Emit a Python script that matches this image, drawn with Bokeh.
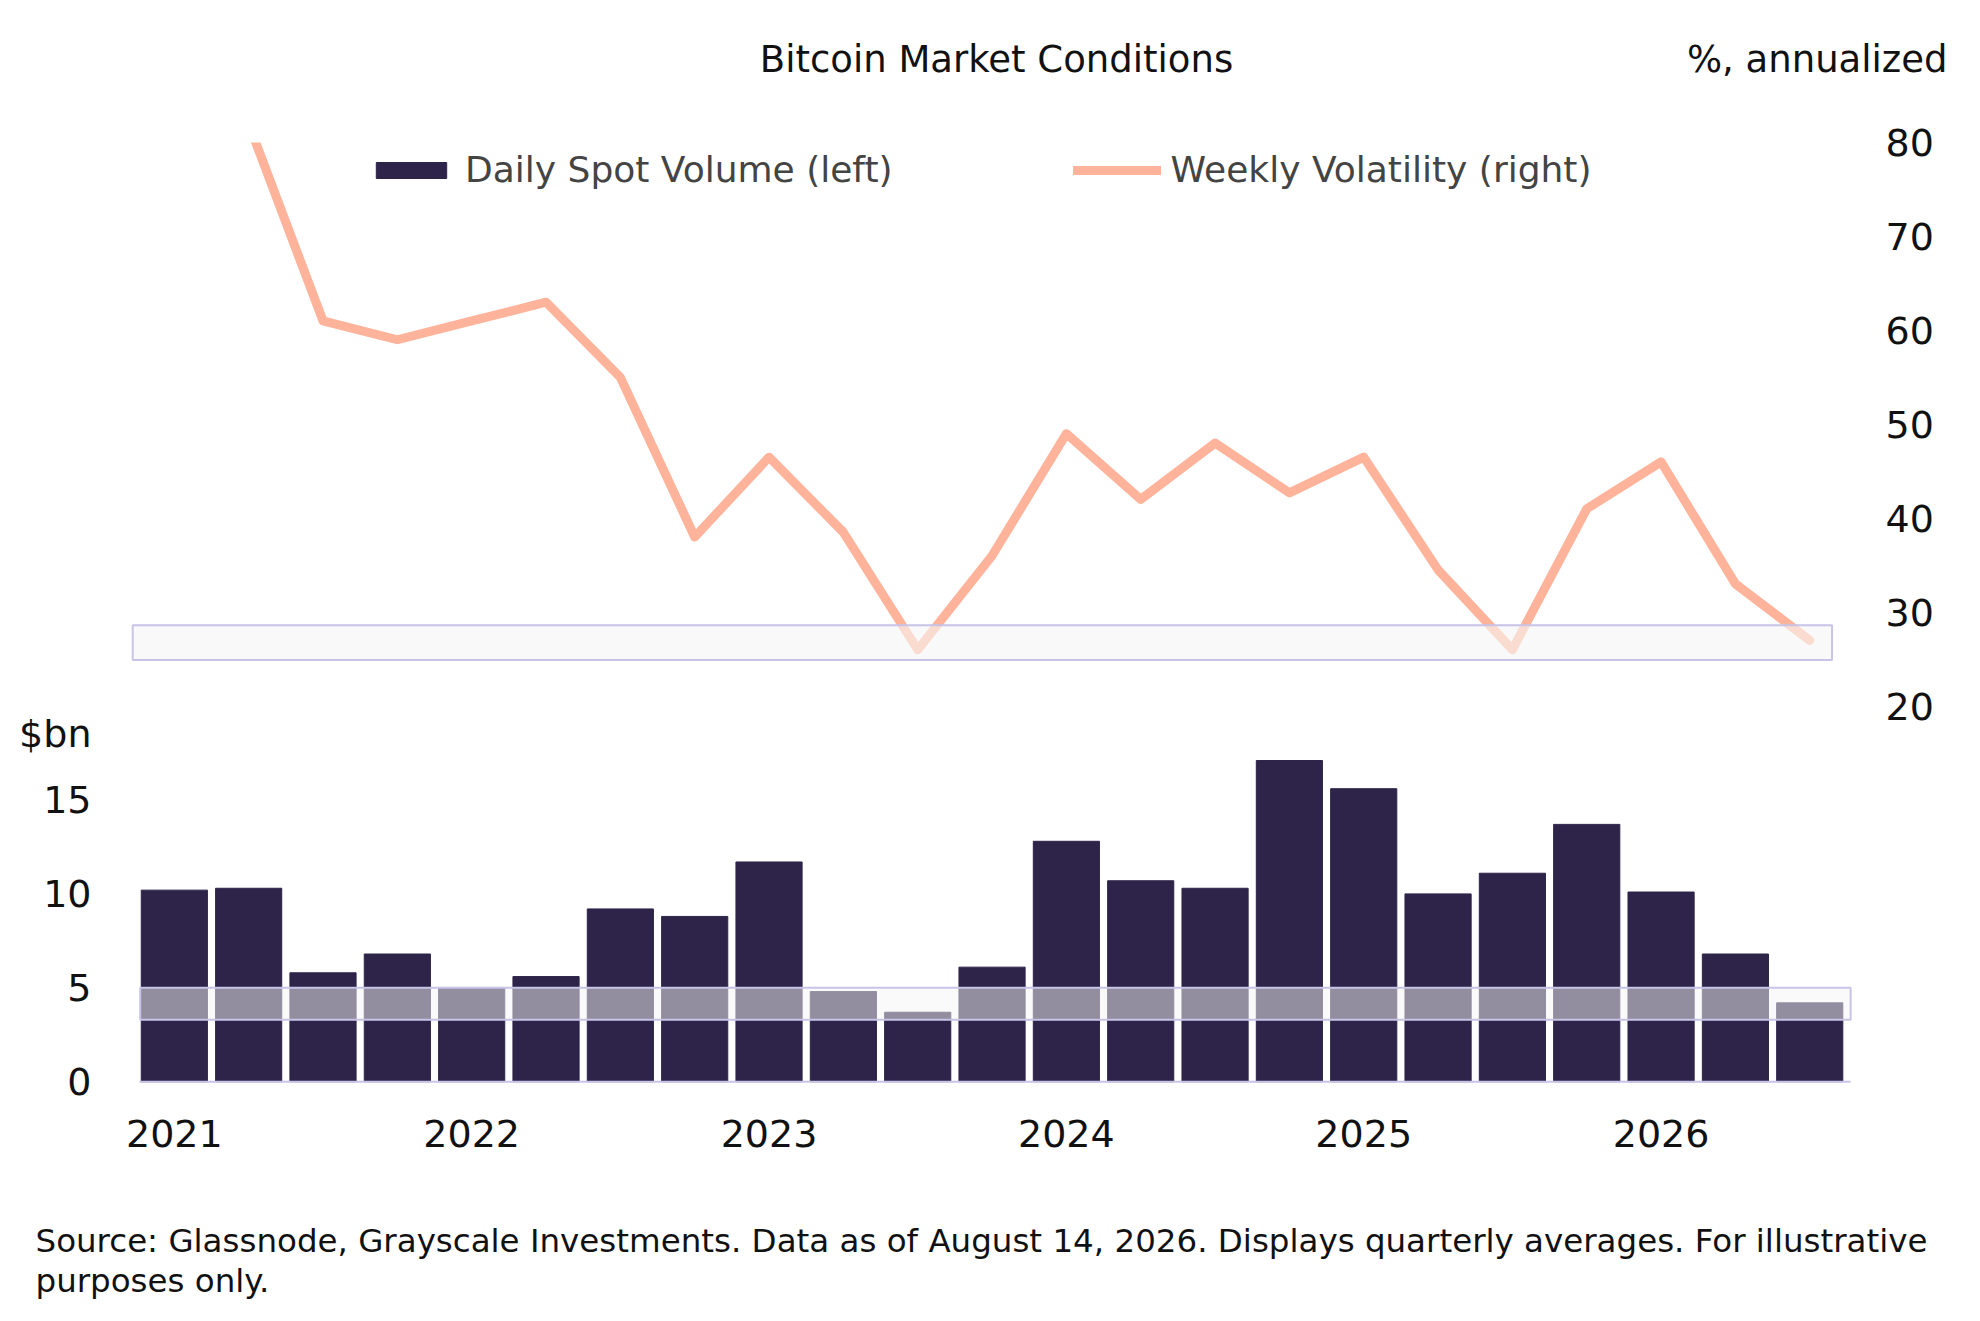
from bokeh.plotting import figure
from bokeh.models import (ColumnDataSource, Range1d, LinearAxis, FixedTicker,
                          Legend, LegendItem, Title)
from bokeh.embed import file_html
from bokeh.resources import INLINE

quarters = ["2021Q1", "2021Q2", "2021Q3", "2021Q4", "2022Q1", "2022Q2", "2022Q3", "2022Q4",
            "2023Q1", "2023Q2", "2023Q3", "2023Q4", "2024Q1", "2024Q2", "2024Q3", "2024Q4",
            "2025Q1", "2025Q2", "2025Q3", "2025Q4", "2026Q1", "2026Q2", "2026Q3"]
volume = [10.2, 10.3, 5.8, 6.8, 5.0, 5.6, 9.2, 8.8, 11.7, 4.8, 3.7, 6.1,
          12.8, 10.7, 10.3, 17.1, 15.6, 10.0, 11.1, 13.7, 10.1, 6.8, 4.2]
volatility = [105, 82, 61, 59, 61, 63, 55, 38, 46.5, 38.5, 26, 36,
              49, 42, 48, 42.7, 46.5, 34.5, 26, 41, 46, 33, 27]
year_labels = {0: "2021", 4: "2022", 8: "2023", 12: "2024", 16: "2025", 20: "2026"}

FONT = "DejaVu Sans"
BAR = "#2e2449"
LINE = "#ffb39a"

idx = list(range(len(quarters)))
src = ColumnDataSource(dict(x=idx, vol=volume, volat=volatility))

p = figure(width=1964, height=1305, output_backend="svg", toolbar_location=None,
           x_range=Range1d(-0.63, 22.75), y_range=Range1d(-20.4, 80),
           min_border_left=127, min_border_right=99, min_border_top=142,
           min_border_bottom=220)
p.outline_line_color = None
p.grid.visible = False
p.xaxis.visible = False
p.yaxis.visible = False
p.extra_y_ranges = {"bars": Range1d(-0.2, 50.0)}

bars = p.vbar(x="x", top="vol", bottom=0, width=0.89, source=src, y_range_name="bars",
              fill_color=BAR, line_color=BAR)
p.segment(x0=-0.47, x1=22.55, y0=0, y1=0, y_range_name="bars", line_color="#c8c4e8", line_width=2)
line = p.line(x="x", y="volat", source=src, line_color=LINE, line_width=9,
              line_join="round", line_cap="round")

# highlight boxes
p.quad(left=-0.56, right=22.3, bottom=24.9, top=28.6, fill_color="#f5f5f5", fill_alpha=0.6,
       line_color="#c8c4e8", line_width=2)
p.quad(left=-0.46, right=22.55, bottom=3.3, top=5.0, y_range_name="bars", fill_color="#f5f5f5",
       fill_alpha=0.5, line_color="#c8c4e8", line_width=2)

def style(ax, standoff, size="38px"):
    ax.axis_line_color = None
    ax.major_tick_line_color = None
    ax.minor_tick_line_color = None
    ax.major_label_text_font = FONT
    ax.major_label_text_font_size = size
    ax.major_label_text_color = "#111111"
    ax.major_label_standoff = standoff

ra = LinearAxis(ticker=FixedTicker(ticks=[20, 30, 40, 50, 60, 70, 80]))
style(ra, 14)
p.add_layout(ra, "right")

la = LinearAxis(y_range_name="bars", ticker=FixedTicker(ticks=[0, 5, 10, 15, 18.5]),
                major_label_overrides={18.5: "$bn"})
style(la, 30)
p.add_layout(la, "left")

ba = LinearAxis(ticker=FixedTicker(ticks=list(year_labels.keys())),
                major_label_overrides=dict(year_labels))
style(ba, 28)
p.add_layout(ba, "below")

# chart title and right-axis unit on a top axis
ta = LinearAxis(ticker=FixedTicker(ticks=[11.06, 22.1]),
                major_label_overrides={11.06: "Bitcoin Market Conditions", 22.1: "%, annualized"})
style(ta, 56, "37px")
p.add_layout(ta, "above")

for t, size in [(" ", "58px"),
                ("Source: Glassnode, Grayscale Investments. Data as of August 14, 2026. Displays quarterly averages. For illustrative", "32.5px"),
                ("purposes only.", "32.5px")]:
    p.add_layout(Title(text=t, align="left", text_font=FONT, text_font_size=size,
                       text_font_style="normal", text_color="#111111", offset=-92,
                       standoff=0), "below")

legend = Legend(items=[LegendItem(label="Daily Spot Volume (left)", renderers=[bars]),
                       LegendItem(label="Weekly Volatility (right)", renderers=[line])],
                orientation="horizontal", location=(240, 895), spacing=180,
                glyph_width=88, glyph_height=20, padding=0, margin=0,
                label_text_font=FONT, label_text_font_size="36px", label_standoff=10,
                background_fill_alpha=0, border_line_color=None)
p.add_layout(legend)

open("out.html", "w").write(file_html(p, INLINE))
